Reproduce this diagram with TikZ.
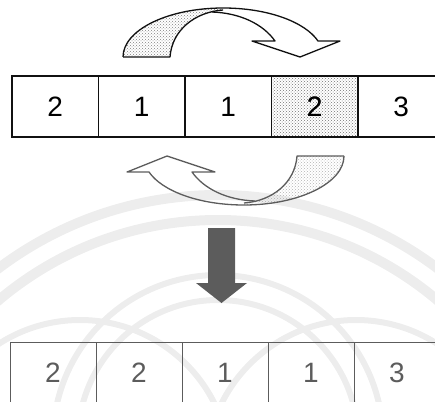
\documentclass[tikz,border=0pt]{standalone}
\usepackage{fontspec}
\setsansfont{Liberation Sans}
\usetikzlibrary{patterns}
\definecolor{ink}{HTML}{111111}
\definecolor{soft}{HTML}{5C5C5C}
\definecolor{seal}{HTML}{EDEDED}
\tikzset{cell/.style={draw,minimum width=86.5pt,minimum height=61pt,inner sep=0pt,font=\sffamily\fontsize{28}{30}\selectfont}}
% ribbon arrow, drawn at the upper position
\newcommand\swingarrow[2]{%
\fill[pattern=crosshatch dots,pattern color=#2] (123,57) .. controls (123,30) and (168,8) .. (223,8) -- (223,10) .. controls (195,12) and (172,30) .. (170,57) -- cycle;
\draw[#1,line width=1.3pt,line join=round] (123,57) .. controls (123,30) and (168,8) .. (223,8) .. controls (268,8) and (305,22) .. (318,41) -- (340,41) -- (300,57) -- (252,41) -- (275,41) .. controls (263,24) and (240,13) .. (212,12);
\draw[#1,line width=1.3pt,line join=round] (123,57) -- (170,57) .. controls (172,30) and (195,12) .. (223,10);}

\begin{document}
\begin{tikzpicture}[x=1pt,y=-1pt]
\useasboundingbox (0,0) rectangle (435,401); \clip (0,0) rectangle (435,401);
% faint seal behind
\draw[seal,line width=10pt] (218,560) circle (365) (218,560) circle (340);
\draw[seal,line width=6pt] (218,440) circle (165) (80,470) circle (150) (356,470) circle (150) (218,440) circle (140);
\foreach \v [count=\i] in {2,1,1,2,3}
  \node[cell,draw=ink,line width=1.2pt] (t\i) at (-31.25+86.5*\i,106.5) {\v};
\node[cell,draw=ink,line width=1.2pt,pattern=crosshatch dots,pattern color=black!55] (t4) at (314.75,106.5) {2};
\foreach \v [count=\i] in {2,2,1,1,3}
  \node[cell,draw=soft,text=soft,line width=0.7pt,minimum width=86pt] (b\i) at (-33+86*\i,372.5) {\v};
\swingarrow{ink}{black!50}
\begin{scope}[shift={(467,213)},rotate=180]
\swingarrow{soft}{gray!60}
\end{scope}
\fill[soft] (208,228) -- (235,228) -- (235,283) -- (247,283) -- (221.5,303) -- (196,283) -- (208,283) -- cycle;
\end{tikzpicture}
\end{document}
